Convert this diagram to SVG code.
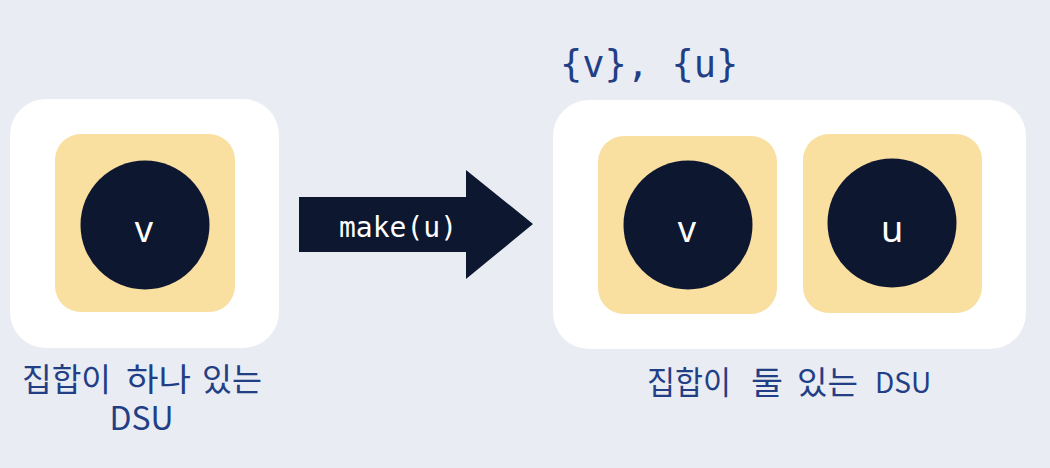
<svg xmlns="http://www.w3.org/2000/svg" width="1050" height="468" viewBox="0 0 1050 468">
<style>
.bg{fill:#e9ecf2}
.box{fill:#ffffff}
.set{fill:#f9dfa0}
.node{fill:#0e1730}
.nl{font-family:"Noto Sans","Open Sans",sans-serif;font-size:36px;fill:#ffffff;text-anchor:middle}
.lbl{font-family:"Noto Sans CJK KR","Noto Sans",sans-serif;font-size:32px;fill:#223f86}
.mono{font-family:"DejaVu Sans Mono","Liberation Mono",monospace}
</style>
<rect class="bg" x="0" y="0" width="1050" height="468"/>
<g id="dsu-one">
<rect class="box" x="10" y="99" width="269" height="249" rx="36"/>
<rect class="set" x="55" y="134" width="180" height="178" rx="26"/>
<circle class="node" cx="145" cy="225" r="64.5"/>
<text class="nl" x="144" y="242">v</text>
<text class="lbl" y="391"><tspan x="22" textLength="89" lengthAdjust="spacingAndGlyphs">집합이</tspan><tspan x="126" textLength="65" lengthAdjust="spacingAndGlyphs">하나</tspan><tspan x="202" textLength="60" lengthAdjust="spacingAndGlyphs">있는</tspan></text>
<text class="lbl" x="141.5" y="430" font-size="26" text-anchor="middle">DSU</text>
</g>
<g id="connectors">
<polygon class="node" points="299,197 466,197 466,170 533,224 466,279 466,252 299,252"/>
<text class="mono" x="398" y="237" font-size="28" fill="#ffffff" text-anchor="middle">make(u)</text>
</g>
<g id="dsu-two">
<text class="mono" x="560" y="77" font-size="37" fill="#223f86" xml:space="preserve">{v}, {u}</text>
<rect class="box" x="553" y="100" width="473" height="249" rx="36"/>
<rect class="set" x="598" y="136" width="179" height="178" rx="26"/>
<rect class="set" x="803" y="134" width="179" height="179" rx="26"/>
<circle class="node" cx="688" cy="225" r="64.5"/>
<circle class="node" cx="892" cy="223" r="64.5"/>
<text class="nl" x="687" y="242">v</text>
<text class="nl" x="892" y="242">u</text>
<text class="lbl" y="394"><tspan x="647" textLength="84" lengthAdjust="spacingAndGlyphs">집합이</tspan><tspan x="751" textLength="32" lengthAdjust="spacingAndGlyphs">둘</tspan><tspan x="797" textLength="61" lengthAdjust="spacingAndGlyphs">있는</tspan><tspan x="875" y="393" font-size="28">DSU</tspan></text>
</g>
</svg>
